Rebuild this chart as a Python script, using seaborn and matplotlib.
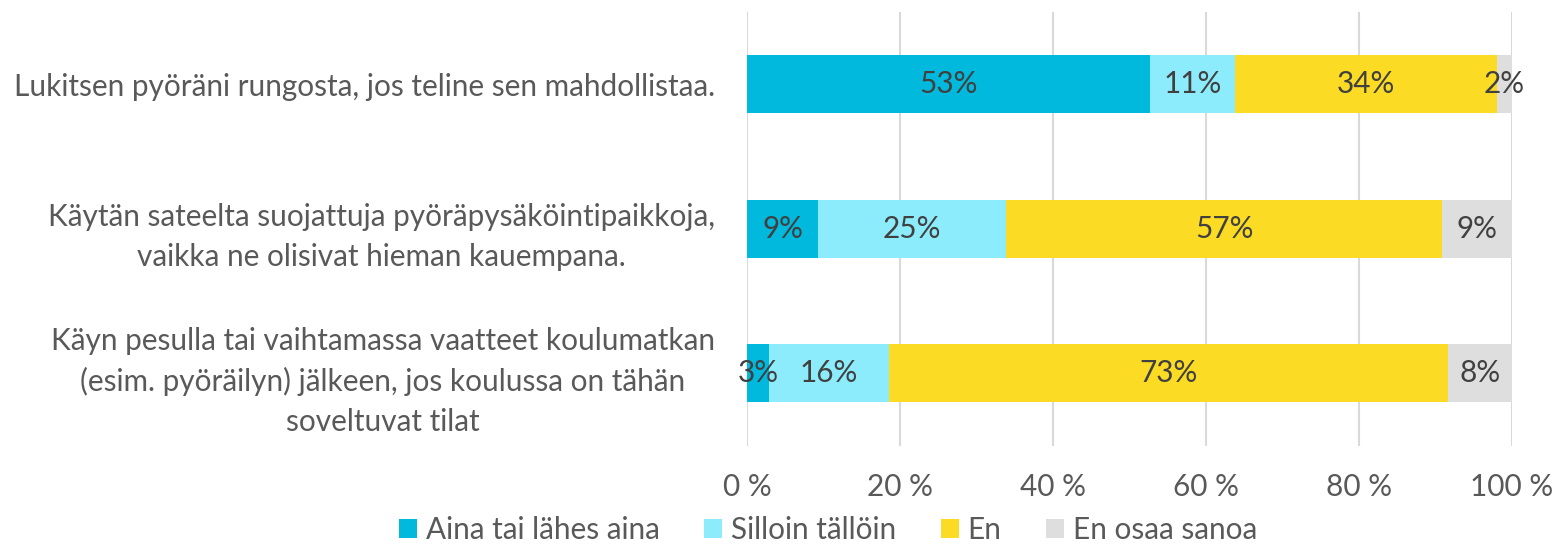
import matplotlib
matplotlib.use('Agg')
import matplotlib.pyplot as plt
import seaborn as sns
import pandas as pd
import numpy as np
from matplotlib.patches import Patch

# Data
statements = [
    "Lukitsen pyöräni rungosta, jos teline sen mahdollistaa.",
    "Käytän sateelta suojattuja pyöräpysäköintipaikkoja,\nvaikka ne olisivat hieman kauempana.",
    "Käyn pesulla tai vaihtamassa vaatteet koulumatkan\n(esim. pyöräilyn) jälkeen, jos koulussa on tähän\nsoveltuvat tilat",
]
answers = ["Aina tai lähes aina", "Silloin tällöin", "En", "En osaa sanoa"]
aina = [52.7, 9.3, 2.9]
silloin = [11.1, 24.6, 15.6]
en = [34.2, 57.0, 73.1]
eos = [2.0, 9.1, 8.4]
colors = ["#00B9DC", "#8CECFC", "#FCDB24", "#DEDEDE"]
x_ticks = [0, 20, 40, 60, 80, 100]

FS = 21.4

sns.set_theme(style="white")
plt.rcParams['font.family'] = ['Lato', 'DejaVu Sans']

df = pd.DataFrame({"Väite": statements, answers[0]: aina, answers[1]: silloin,
                   answers[2]: en, answers[3]: eos})
cum = df[answers].cumsum(axis=1)

fig = plt.figure(figsize=(15.57, 5.49), dpi=100)
ax = fig.add_axes([747 / 1557, 1 - 445.5 / 549, 765 / 1557, 433.5 / 549])

# gridlines behind bars
for t in x_ticks:
    ax.axvline(t, color="#D9D9D9", linewidth=1.5, zorder=0)

# stacked bars: draw cumulative totals from the last series back to the first
for answer, color in reversed(list(zip(answers, colors))):
    sns.barplot(x=cum[answer], y=df["Väite"], color=color, width=0.4, saturation=1,
                orient="h", ax=ax, zorder=2, edgecolor="none", linewidth=0)

# segment labels
for i in range(len(df)):
    left = 0
    for answer in answers:
        v = df.loc[i, answer]
        ax.text(left + v / 2, i, f"{v:.0f}%", ha="center", va="center",
                fontsize=FS, color="#404040", zorder=3)
        left += v

ax.set_xlim(0, 100)
ax.set_ylim(2.5, -0.5)
ax.set_xticks(x_ticks)
ax.set_xticklabels([f"{t} %" for t in x_ticks], fontsize=FS, color="#595959")
ax.tick_params(axis="x", length=0, pad=20)
ax.tick_params(axis="y", length=0, pad=23)
for lbl in ax.get_yticklabels():
    lbl.set_fontsize(FS)
    lbl.set_color("#595959")
    lbl.set_multialignment("center")
    lbl.set_linespacing(1.5)
ax.set_xlabel("")
ax.set_ylabel("")
for s in ax.spines.values():
    s.set_visible(False)

handles = [Patch(facecolor=c, edgecolor="none") for c in colors]
fig.legend(handles, answers, loc="center", bbox_to_anchor=(828 / 1557, 1 - 530 / 549),
           ncol=4, frameon=False, fontsize=FS, labelcolor="#595959",
           handlelength=0.6, handleheight=0.6, handletextpad=0.3, columnspacing=1.5,
           borderpad=0)

fig.savefig("out.png", dpi=100)
plt.close(fig)
